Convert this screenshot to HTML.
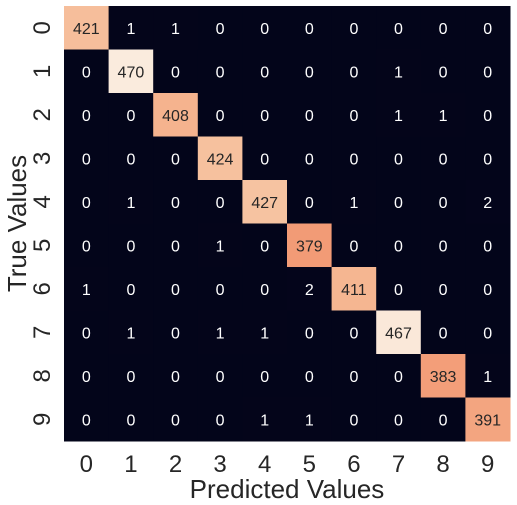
<!DOCTYPE html>
<html><head><meta charset="utf-8"><style>
body{margin:0;background:#fff;}
svg{display:block;font-family:"Liberation Sans",Arial,sans-serif;}
</style></head><body>
<svg id="chart" width="517" height="505" xmlns="http://www.w3.org/2000/svg"></svg>
<script>
const labels = ["0","1","2","3","4","5","6","7","8","9"];
const matrix = [
[421,1,1,0,0,0,0,0,0,0],
[0,470,0,0,0,0,0,1,0,0],
[0,0,408,0,0,0,0,1,1,0],
[0,0,0,424,0,0,0,0,0,0],
[0,1,0,0,427,0,1,0,0,2],
[0,0,0,1,0,379,0,0,0,0],
[1,0,0,0,0,2,411,0,0,0],
[0,1,0,1,1,0,0,467,0,0],
[0,0,0,0,0,0,0,0,383,1],
[0,0,0,0,1,1,0,0,0,391]
];
const svg=document.getElementById('chart');
const NS='http://www.w3.org/2000/svg';
const X0=64,Y0=6,W=446,H=435;
const cw=W/labels.length,ch=H/labels.length;
let vmax=0;matrix.forEach(r=>r.forEach(v=>{if(v>vmax)vmax=v;}));
const stops=[[0,[3,5,26]],[0.2,[64,15,69]],[0.4,[138,25,80]],[0.55,[203,27,79]],[0.7,[240,96,67]],[0.8,[242,152,115]],[0.87,[245,180,143]],[0.92,[246,200,167]],[1,[250,235,221]]];
function color(v){const t=v/vmax;for(let i=1;i<stops.length;i++){if(t<=stops[i][0]){const a=stops[i-1],b=stops[i];const f=(t-a[0])/(b[0]-a[0]);return 'rgb('+a[1].map((c,k)=>Math.round(c+(b[1][k]-c)*f)).join(',')+')';}}return 'rgb(250,235,221)';}
function el(tag,attrs,txt){const e=document.createElementNS(NS,tag);for(const k in attrs)e.setAttribute(k,attrs[k]);if(txt!==undefined)e.textContent=txt;svg.appendChild(e);return e;}
matrix.forEach((row,i)=>row.forEach((v,j)=>{
 const r=el('rect',{x:X0+j*cw,y:Y0+i*ch,width:cw+0.5,height:ch+0.5,fill:color(v)});
 
 
 const t=el('text',{x:X0+(j+0.5)*cw,y:Y0+(i+0.5)*ch+6,'text-anchor':'middle','font-size':16,fill:v/vmax>0.5?'#262626':'#ffffff'},v);
 
 
}));
labels.forEach((l,j)=>{
 const t=el('text',{x:X0+(j+0.5)*cw,y:472,'text-anchor':'middle','font-size':24,fill:'#262626'},l);
 
 
 const cy=Y0+(j+0.5)*ch;
 const u=el('text',{x:50,y:cy,'text-anchor':'middle','font-size':24,fill:'#262626',transform:'rotate(-90 50 '+cy+')'},l);
 
 
});
const xt=el('text',{x:X0+W/2,y:498,'text-anchor':'middle','font-size':26,fill:'#262626'},'Predicted Values');


const yc=Y0+H/2;
const yt=el('text',{x:26,y:yc,'text-anchor':'middle','font-size':26,fill:'#262626',transform:'rotate(-90 26 '+yc+')'},'True Values');


</script>
</body></html>
